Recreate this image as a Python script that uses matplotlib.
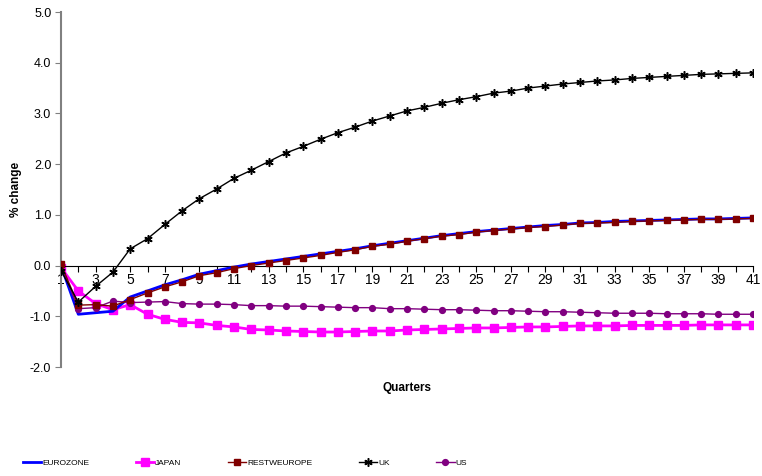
import numpy as np
import matplotlib
matplotlib.use('Agg')
import matplotlib.pyplot as plt

plt.rcParams['font.family'] = ['Liberation Sans', 'DejaVu Sans']

quarters = list(range(1, 42))

eurozone = [0.00, -0.96, -0.93, -0.90, -0.62, -0.50, -0.38, -0.28, -0.17, -0.10,
            -0.03, 0.03, 0.08, 0.13, 0.18, 0.23, 0.28, 0.33, 0.39, 0.44,
            0.49, 0.54, 0.59, 0.63, 0.67, 0.70, 0.73, 0.76, 0.79, 0.81,
            0.84, 0.85, 0.87, 0.88, 0.89, 0.90, 0.91, 0.92, 0.92, 0.93, 0.94]
japan = [-0.04, -0.50, -0.75, -0.87, -0.77, -0.96, -1.06, -1.12, -1.13, -1.18,
         -1.21, -1.26, -1.27, -1.29, -1.30, -1.31, -1.31, -1.30, -1.29, -1.29,
         -1.27, -1.26, -1.25, -1.24, -1.23, -1.23, -1.22, -1.21, -1.21, -1.20,
         -1.19, -1.19, -1.19, -1.18, -1.18, -1.18, -1.18, -1.17, -1.17, -1.17, -1.17]
restweurope = [0.03, -0.78, -0.77, -0.80, -0.67, -0.54, -0.42, -0.32, -0.20, -0.14,
               -0.06, 0.00, 0.05, 0.10, 0.15, 0.20, 0.26, 0.31, 0.38, 0.42,
               0.48, 0.53, 0.58, 0.61, 0.66, 0.69, 0.72, 0.75, 0.77, 0.80,
               0.83, 0.84, 0.85, 0.87, 0.88, 0.89, 0.90, 0.91, 0.91, 0.92, 0.93]
uk = [-0.10, -0.72, -0.41, -0.13, 0.33, 0.53, 0.81, 1.08, 1.32, 1.51,
      1.72, 1.88, 2.05, 2.22, 2.35, 2.49, 2.62, 2.73, 2.85, 2.95,
      3.05, 3.12, 3.20, 3.27, 3.33, 3.40, 3.44, 3.50, 3.54, 3.58,
      3.61, 3.64, 3.66, 3.69, 3.71, 3.73, 3.75, 3.77, 3.78, 3.79, 3.80]
us = [0.01, -0.85, -0.83, -0.70, -0.73, -0.72, -0.71, -0.75, -0.76, -0.76,
      -0.77, -0.79, -0.79, -0.80, -0.80, -0.81, -0.82, -0.83, -0.83, -0.85,
      -0.85, -0.86, -0.87, -0.87, -0.88, -0.89, -0.89, -0.90, -0.91, -0.91,
      -0.92, -0.93, -0.94, -0.94, -0.94, -0.95, -0.95, -0.95, -0.96, -0.96, -0.96]

fig = plt.figure(figsize=(7.62, 4.76), dpi=100)
ax = fig.add_axes([61 / 762, 1 - 367 / 476, 692 / 762, 355 / 476])

ax.plot(quarters, eurozone, color='#0000ff', lw=2.0, label='EUROZONE', zorder=3)
ax.plot(quarters, japan, color='#ff00ff', lw=2.0, marker='s', ms=5.5, label='JAPAN', zorder=2)
ax.plot(quarters, restweurope, color='#800000', lw=1.0, marker='s', ms=4.5, label='RESTWEUROPE', zorder=4)
ax.plot(quarters, uk, color='black', lw=1.0, marker=(6, 2, 0), ms=6, mew=1.1, label='UK', zorder=5)
ax.plot(quarters, us, color='#800080', lw=1.0, marker='o', ms=4.2, label='US', zorder=3)

ax.set_xlim(1, 41)
ax.set_ylim(-2, 5)
ax.set_yticks(np.arange(-2, 6, 1))
ax.set_yticklabels(['%.1f' % v for v in np.arange(-2, 6, 1)], fontsize=9)
ax.set_xticks(quarters)
ax.set_xticklabels([str(q) if q % 2 == 1 else '' for q in quarters], fontsize=9)

for s in ['top', 'right']:
    ax.spines[s].set_visible(False)
ax.spines['bottom'].set_position(('data', 0))
ax.spines['bottom'].set_color('black')
ax.spines['left'].set_color('#808080')
ax.spines['left'].set_linewidth(1.5)
ax.tick_params(axis='x', direction='out', length=4, pad=1, color='black')
ax.tick_params(axis='y', direction='out', length=4, pad=3, color='#808080')

ax.set_ylabel('% change', fontsize=8.5, fontweight='bold', labelpad=6)
fig.text(407 / 762, 1 - 388 / 476, 'Quarters', fontsize=8.5, fontweight='bold',
         ha='center', va='center')

fig.legend(loc='center left', bbox_to_anchor=(23 / 762, 1 - 463 / 476), ncol=5,
           frameon=False, handlelength=2.2, handletextpad=0.1,
           columnspacing=5.6, borderpad=0, borderaxespad=0,
           prop={'family': 'Liberation Sans', 'size': 6})

fig.savefig('out.png', dpi=100)
